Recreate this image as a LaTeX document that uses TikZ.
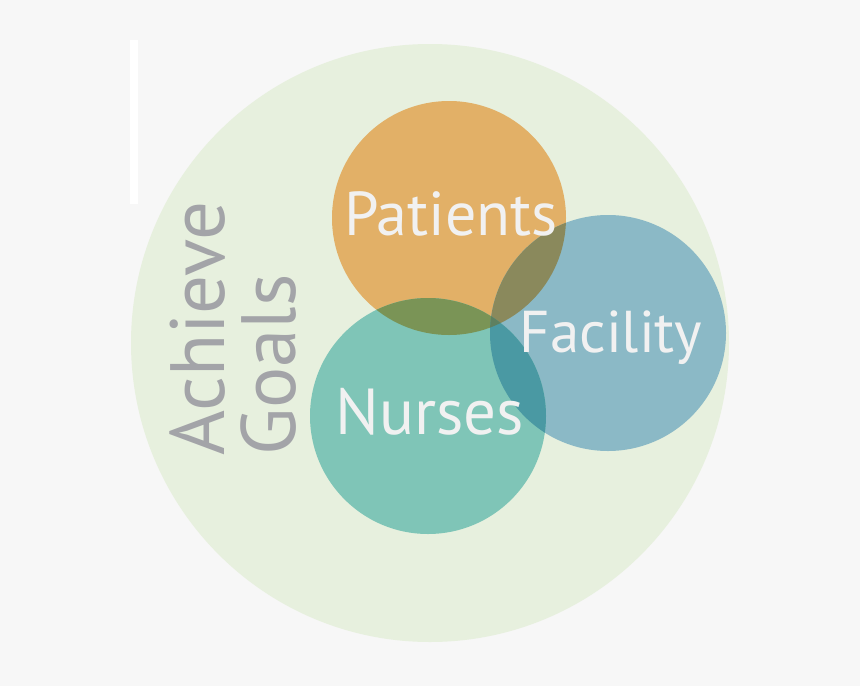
\documentclass[tikz,border=0pt]{standalone}
\usepackage{fontspec}
\setmainfont{PT Sans}
\definecolor{bgGray}{HTML}{F7F7F7}
\definecolor{goalGreen}{HTML}{E7F0DE}
\definecolor{patOrange}{HTML}{E2B067}
\definecolor{facBlue}{HTML}{8BB9C6}
\definecolor{nurTeal}{HTML}{7FC5B7}
\definecolor{pfOlive}{HTML}{8A895C}
\definecolor{pnGreen}{HTML}{7A9456}
\definecolor{nfTeal}{HTML}{4A99A3}
\definecolor{allDark}{HTML}{5E8060}
\definecolor{labelWhite}{HTML}{F1F1F1}
\definecolor{goalGray}{HTML}{A3A4A8}
\tikzset{
  labeltext/.style={text=labelWhite, font=\fontsize{#1}{#1}\selectfont, anchor=base, inner sep=0pt},
  goaltext/.style={text=goalGray, font=\fontsize{77}{77}\selectfont, rotate=90, anchor=base west, inner sep=0pt}
}
\begin{document}
\begin{tikzpicture}[x=1pt,y=-1pt]
\fill[bgGray] (0,0) rectangle (860,686);
\useasboundingbox (0,0) rectangle (860,686);

\coordinate (goalC) at (430,343);
\coordinate (patC) at (449,218);
\coordinate (facC) at (608,333);
\coordinate (nurC) at (428,416);

\fill[goalGreen] (goalC) circle (299);
\fill[white] (130,40) rectangle (138,204);

\fill[patOrange] (patC) circle (117);
\fill[facBlue] (facC) circle (118);
\fill[nurTeal] (nurC) circle (118);

% overlaps
\begin{scope}
  \clip (patC) circle (117);
  \fill[pfOlive] (facC) circle (118);
  \fill[pnGreen] (nurC) circle (118);
\end{scope}
\begin{scope}
  \clip (nurC) circle (118);
  \fill[nfTeal] (facC) circle (118);
  \clip (facC) circle (118);
  \fill[allDark] (patC) circle (117);
\end{scope}

\node[labeltext=62] (patients) at (451,235) {Patients};
\node[labeltext=59] (facility) at (611,352) {Facility};
\node[labeltext=65] (nurses) at (430,434) {Nurses};

\node[goaltext] (achieve) at (224,456) {Achieve};
\node[goaltext] (goals) at (295,456) {Goals};
\end{tikzpicture}
\end{document}
